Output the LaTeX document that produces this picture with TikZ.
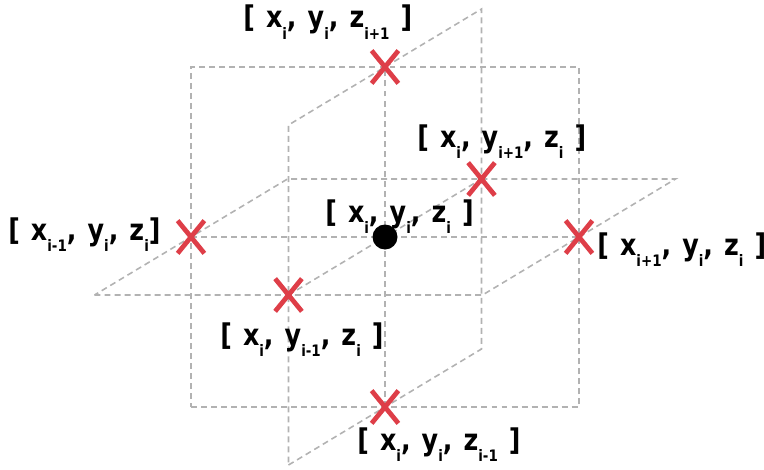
\documentclass[tikz,border=0pt]{standalone}
\usepackage{fontspec}
\setmainfont{DejaVu Sans}[FakeStretch=0.85]
\usetikzlibrary{shapes.misc}
\definecolor{lgray}{RGB}{178,178,178}
\definecolor{xred} {RGB}{222,62,72}
\newcommand{\sbs}[1]{\raisebox{-6.3pt}{\fontsize{9}{10}\selectfont #1}}
\newcommand{\lblfont}{\bfseries\fontsize{17}{19}\selectfont\spaceskip=0.37em\relax}

\begin{document}
\begin{tikzpicture}[x={(3.88cm,0cm)}, y={(1.93cm,1.16cm)}, z={(0cm,3.4cm)},
    dline/.style={draw=lgray, line width=0.9pt, dash pattern=on 3.4pt off 2.3pt},
    xmark/.style={cross out, draw=xred, line width=2.7pt, inner sep=0pt,
                  minimum width=0.44cm, minimum height=0.56cm},
    cdot/.style={circle, fill=black, inner sep=0pt, minimum size=0.5cm},
    lbl/.style={inner sep=0pt, anchor=base west, font=\lblfont}]
  \useasboundingbox (-7.70cm,-4.64cm) rectangle (7.58cm,4.74cm);
  \coordinate (c)  at (0,0,0);
  \coordinate (xm) at (-1,0,0);
  \coordinate (xp) at (1,0,0);
  \coordinate (ym) at (0,-1,0);
  \coordinate (yp) at (0,1,0);
  \coordinate (zm) at (0,0,-1);
  \coordinate (zp) at (0,0,1);

  \draw[dline] (-1,0,-1) -- (1,0,-1) -- (1,0,1) -- (-1,0,1) -- cycle;
  \draw[dline] (-1,-1,0) -- (1,-1,0) -- (1,1,0) -- (-1,1,0) -- cycle;
  \draw[dline] (0,-1,-1) -- (0,1,-1) -- (0,1,1) -- (0,-1,1) -- cycle;
  \draw[dline] (xm) -- (xp);
  \draw[dline] (ym) -- (yp);
  \draw[dline] (zm) -- (zp);

  \node[cdot]  (nc)  at (c)  {};
  \node[xmark] (nxm) at (xm) {};
  \node[xmark] (nxp) at (xp) {};
  \node[xmark] (nym) at (ym) {};
  \node[xmark] (nyp) at (yp) {};
  \node[xmark] (nzm) at (zm) {};
  \node[xmark] (nzp) at (zp) {};

  \node[lbl] (lc)  at (-1.20cm,0.30cm)  {[ x\sbs{i}, y\sbs{i}, z\sbs{i} ]};
  \node[lbl] (lxm) at (-7.54cm,-0.06cm) {[ x\sbs{i-1}, y\sbs{i}, z\sbs{i}]};
  \node[lbl] (lxp) at (4.24cm,-0.36cm)  {[ x\sbs{i+1}, y\sbs{i}, z\sbs{i} ]};
  \node[lbl] (lym) at (-3.30cm,-2.16cm) {[ x\sbs{i}, y\sbs{i-1}, z\sbs{i} ]};
  \node[lbl] (lyp) at (0.64cm,1.80cm)   {[ x\sbs{i}, y\sbs{i+1}, z\sbs{i} ]};
  \node[lbl] (lzm) at (-0.56cm,-4.26cm) {[ x\sbs{i}, y\sbs{i}, z\sbs{i-1} ]};
  \node[lbl] (lzp) at (-2.84cm,4.18cm)  {[ x\sbs{i}, y\sbs{i}, z\sbs{i+1} ]};
\end{tikzpicture}
\end{document}
